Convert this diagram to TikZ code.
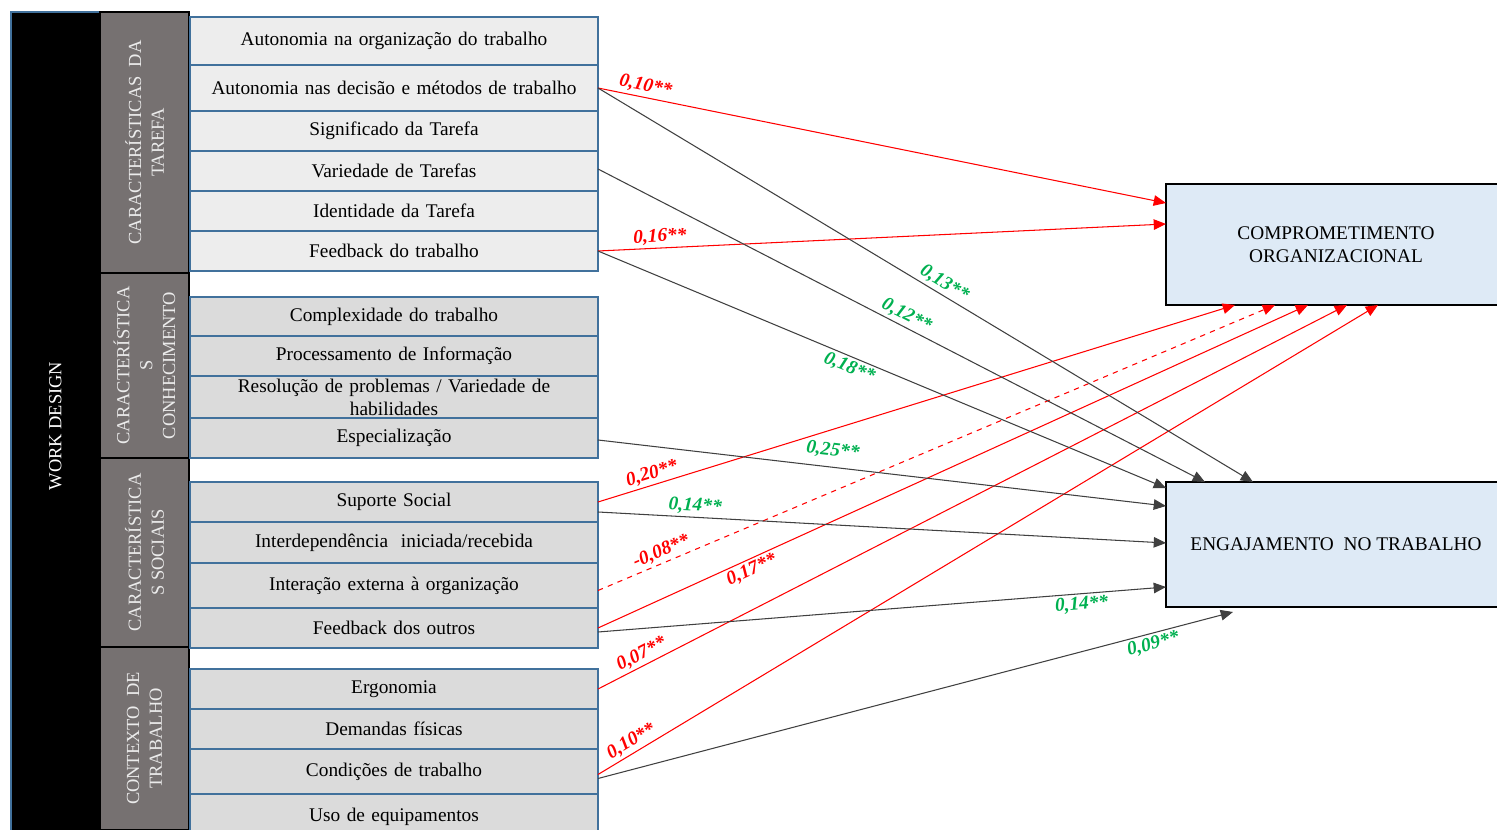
\documentclass[tikz,border=0pt]{standalone}
\usepackage{fontspec}
\setmainfont{Liberation Serif}
\usetikzlibrary{arrows.meta, positioning, calc}
\def\pxu{0.02cm}
\definecolor{itemline}{HTML}{41719C}
\definecolor{itemtask}{HTML}{EDEDED}
\definecolor{itemgray}{HTML}{DBDBDB}
\definecolor{catgray}{HTML}{767171}
\definecolor{resultfill}{HTML}{DEEAF6}
\definecolor{coefgreen}{HTML}{00B050}
\definecolor{pathgray}{HTML}{404040}

\begin{document}
\begin{tikzpicture}[x=0.02cm, y=-0.02cm,
	  item/.style={
	  	rectangle,
	  	draw=itemline,
	  	line width=0.9pt,
	  	fill=itemgray,
	  	text width=400*\pxu,
	  	inner xsep=4*\pxu,
	  	inner ysep=0pt,
	  	outer sep=0pt,
	  	align=center,
	  	font=\fontsize{11}{13}\selectfont
	  },
	  taskitem/.style={item, fill=itemtask},
	  category/.style={
	  	rectangle,
	  	draw=black,
	  	line width=0.6pt,
	  	fill=catgray,
	  	text=white!92!black,
	  	rotate=90,
	  	align=center,
	  	minimum height=89*\pxu,
	  	inner sep=0pt,
	  	outer sep=0pt,
	  	font=\fontsize{10.5}{13}\selectfont
	  },
	  workdesign/.style={
	  	category,
	  	fill=black,
	  	draw=itemline,
	  	text=white
	  },
	  result/.style={
	  	rectangle,
	  	draw=black,
	  	line width=1pt,
	  	fill=resultfill,
	  	align=center,
	  	anchor=north west,
	  	minimum width=340*\pxu,
	  	outer sep=0pt,
	  	font=\fontsize{11}{13}\selectfont
	  },
	  toorg/.style={draw=red, line width=0.6pt, -{Triangle[length=7pt,width=6pt]}},
	  toeng/.style={draw=pathgray, line width=0.6pt, -{Triangle[length=7pt,width=6pt]}},
	  coef/.style={sloped, inner sep=1.5pt, font=\bfseries\itshape\fontsize{11}{12}\selectfont},
	  redcoef/.style={coef, text=red},
	  greencoef/.style={coef, text=coefgreen}]
	\useasboundingbox (0,0) rectangle (1497,830);
	\clip (0,0) rectangle (1497,830);
	% Work design and its four groups
	\node[workdesign, minimum width=828*\pxu] (wd) at (55.5,426) {WORK DESIGN};
	\node[category, minimum width=261*\pxu] (tarefa) at (144.5,142.5) {CARACTERÍSTICAS\ \ DA\\TAREFA};
	\node[category, minimum width=185*\pxu] (conhec) at (144.5,365.5) {CARACTERÍSTICA\\S\\CONHECIMENTO};
	\node[category, minimum width=189*\pxu] (sociais) at (144.5,552.5) {CARACTERÍSTICA\\S SOCIAIS};
	\node[category, minimum width=183*\pxu] (contexto) at (144.5,738.5) {CONTEXTO\ \ DE\\TRABALHO};
	% Task characteristics
	\node[taskitem, minimum height=48*\pxu, anchor=north west] (autorg) at (190,17) {\raisebox{-3pt}{Autonomia na organização do trabalho}};
	\node[taskitem, minimum height=46*\pxu, below=0pt of autorg] (autdec) {Autonomia nas decisão e métodos de trabalho};
	\node[taskitem, minimum height=40*\pxu, below=0pt of autdec] (signif) {Significado da Tarefa};
	\node[taskitem, minimum height=40*\pxu, below=0pt of signif] (variedade) {Variedade de Tarefas};
	\node[taskitem, minimum height=40*\pxu, below=0pt of variedade] (ident) {Identidade da Tarefa};
	\node[taskitem, minimum height=40*\pxu, below=0pt of ident] (feedtrab) {Feedback do trabalho};
	% Knowledge characteristics
	\node[item, minimum height=39*\pxu, anchor=north west] (complex) at (190,297) {Complexidade do trabalho};
	\node[item, minimum height=40*\pxu, below=0pt of complex] (process) {Processamento de Informação};
	\node[item, minimum height=42*\pxu, below=0pt of process] (resol) {Resolução de problemas / Variedade de\\habilidades};
	\node[item, minimum height=40*\pxu, below=0pt of resol] (especial) {Especialização};
	% Social characteristics
	\node[item, minimum height=40*\pxu, anchor=north west] (suporte) at (190,482) {Suporte Social};
	\node[item, minimum height=41*\pxu, below=0pt of suporte] (interdep) {Interdependência\ \ iniciada/recebida};
	\node[item, minimum height=45*\pxu, below=0pt of interdep] (interacao) {Interação externa à organização};
	\node[item, minimum height=40*\pxu, below=0pt of interacao] (feedout) {Feedback dos outros};
	% Work context
	\node[item, minimum height=40*\pxu, anchor=north west] (ergo) at (190,669) {Ergonomia};
	\node[item, minimum height=40*\pxu, below=0pt of ergo] (demandas) {Demandas físicas};
	\node[item, minimum height=45*\pxu, below=0pt of demandas] (condicoes) {Condições de trabalho};
	\node[item, minimum height=46*\pxu, below=0pt of condicoes] (usoequip) {Uso de equipamentos};
	% Outcomes
	\node[result, minimum height=121*\pxu] (comp) at (1166,184) {COMPROMETIMENTO\\ORGANIZACIONAL};
	\node[result, minimum height=125*\pxu] (engaj) at (1166,482) {ENGAJAMENTO\ \ NO TRABALHO};
	% Paths to commitment
	\draw[toorg] (autdec.east) -- node[redcoef, pos=0.08, above] {0,10**} ($(comp.north west)+(0,19)$);
	\draw[toorg] (feedtrab.east) -- node[redcoef, pos=0.11, above] {0,16**} ($(comp.north west)+(0,40)$);
	\draw[toorg] (suporte.east) -- node[redcoef, pos=0.09, above] {0,20**} ($(comp.south west)+(69,0)$);
	\draw[toorg, dashed] ($(interacao.east)+(0,5)$) -- node[redcoef, pos=0.1, above] {-0,08**} ($(comp.south west)+(109,0)$);
	\draw[toorg] (feedout.east) -- node[redcoef, pos=0.21, below] {0,17**} ($(comp.south west)+(142,0)$);
	\draw[toorg] (ergo.east) -- node[redcoef, pos=0.065, above] {0,07**} ($(comp.south west)+(181,0)$);
	\draw[toorg] ($(condicoes.east)+(0,3)$) -- node[redcoef, pos=0.05, above] {0,10**} ($(comp.south west)+(212,0)$);
	% Paths to engagement
	\draw[toeng] (autdec.east) -- node[greencoef, pos=0.52, above] {0,13**} ($(engaj.north west)+(87,0)$);
	\draw[toeng] ($(variedade.east)+(0,-2)$) -- node[greencoef, pos=0.5, above] {0,12**} ($(engaj.north west)+(39,0)$);
	\draw[toeng] (feedtrab.east) -- node[greencoef, pos=0.45, below] {0,18**} ($(engaj.north west)+(0,6)$);
	\draw[toeng] ($(especial.east)+(0,2)$) -- node[greencoef, pos=0.41, above=3pt] {0,25**} ($(engaj.north west)+(0,24)$);
	\draw[toeng] ($(suporte.east)+(0,10)$) -- node[greencoef, pos=0.17, above] {0,14**} ($(engaj.north west)+(0,61)$);
	\draw[toeng] ($(feedout.east)+(0,4)$) -- node[greencoef, pos=0.85, below] {0,14**} ($(engaj.north west)+(0,105)$);
	\draw[toeng] ($(condicoes.east)+(0,7)$) -- node[greencoef, pos=0.87, below] {0,09**} ($(engaj.south west)+(67,5)$);
\end{tikzpicture}
\end{document}
